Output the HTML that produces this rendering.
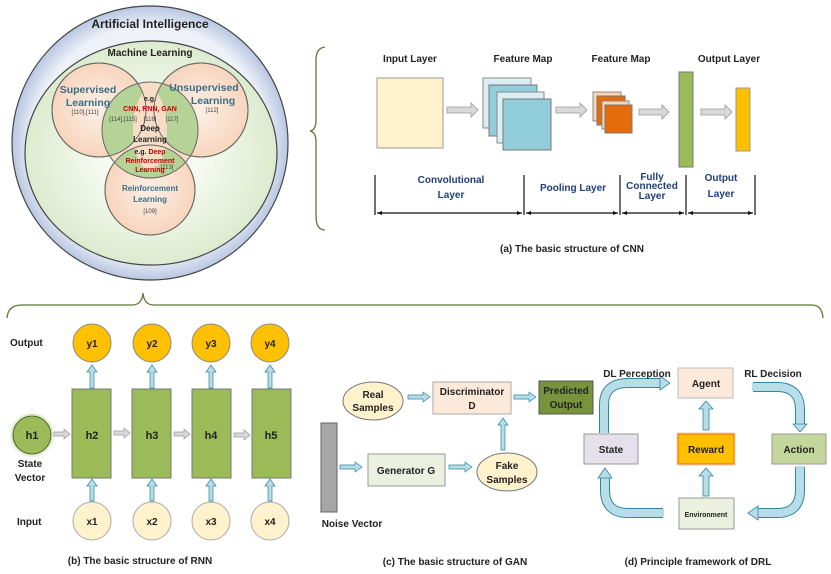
<!DOCTYPE html>
<html><head><meta charset="utf-8"><style>
html,body{margin:0;padding:0;background:#fff}
svg{display:block}
text{font-family:"Liberation Sans",sans-serif;font-weight:bold;fill:#222}
</style></head><body>
<svg width="831" height="574" viewBox="0 0 831 574" xmlns="http://www.w3.org/2000/svg">
<defs>
<radialGradient id="ai" cx="50%" cy="50%" r="50%"><stop offset="85%" stop-color="#eef1f8"/><stop offset="100%" stop-color="#b8c7e2"/></radialGradient>
<radialGradient id="ml" cx="50%" cy="50%" r="50%"><stop offset="40%" stop-color="#f6faf0"/><stop offset="100%" stop-color="#dcebcf"/></radialGradient>
<radialGradient id="pk" cx="50%" cy="50%" r="50%"><stop offset="0%" stop-color="#fdf0e6"/><stop offset="100%" stop-color="#f7d5bd"/></radialGradient>
</defs>
<!-- Venn -->
<ellipse cx="150" cy="143" rx="138" ry="137" fill="url(#ai)" stroke="#444" stroke-width="1.2"/>
<ellipse cx="151" cy="153" rx="126" ry="112" fill="url(#ml)" stroke="#444" stroke-width="1.2"/>
<circle cx="99" cy="110" r="47" fill="url(#pk)" stroke="#666"/>
<circle cx="201" cy="110" r="47" fill="url(#pk)" stroke="#666"/>
<circle cx="150" cy="190" r="45" fill="url(#pk)" stroke="#666"/>
<clipPath id="cd"><circle cx="150" cy="130" r="48"/></clipPath>
<circle cx="150" cy="130" r="48" fill="#f8ddc6"/>
<g clip-path="url(#cd)">
<circle cx="99" cy="110" r="47" fill="#a9d18e" opacity="0.85"/>
<circle cx="201" cy="110" r="47" fill="#a9d18e" opacity="0.85"/>
<circle cx="150" cy="190" r="45" fill="#a9d18e" opacity="0.85"/>
<ellipse cx="150" cy="130" rx="17" ry="40" fill="#f8ddc6"/>
</g>
<circle cx="99" cy="110" r="47" fill="none" stroke="#666"/>
<circle cx="201" cy="110" r="47" fill="none" stroke="#666"/>
<circle cx="150" cy="190" r="45" fill="none" stroke="#666"/>
<circle cx="150" cy="130" r="48" fill="none" stroke="#666"/>
<text x="150" y="28" font-size="12" text-anchor="middle">Artificial Intelligence</text>
<text x="150" y="56" font-size="10" text-anchor="middle">Machine Learning</text>
<g fill="#31708f" style="fill:#3a6e86" font-size="10.5" text-anchor="middle">
<text x="88" y="93" style="fill:#3a6e86">Supervised</text><text x="88" y="106" style="fill:#3a6e86">Learning</text>
<text x="204" y="91" style="fill:#3a6e86">Unsupervised</text><text x="213" y="104" style="fill:#3a6e86">Learning</text>
<text x="150" y="191" font-size="8" style="fill:#3a6e86">Reinforcement</text><text x="150" y="202" font-size="8" style="fill:#3a6e86">Learning</text>
</g>
<g font-size="6" style="font-weight:normal" text-anchor="middle">
<text x="85" y="114" style="font-weight:normal;fill:#444">[110],[111]</text>
<text x="212" y="112" style="font-weight:normal;fill:#444">[112]</text>
<text x="123" y="121" style="font-weight:normal;fill:#444">[114],[115]</text>
<text x="150" y="121" style="font-weight:normal;fill:#444">[116]</text>
<text x="172" y="121" style="font-weight:normal;fill:#444">[117]</text>
<text x="167" y="169" style="font-weight:normal;fill:#444">[113]</text>
<text x="150" y="213" style="font-weight:normal;fill:#444">[109]</text>
</g>
<text x="150" y="101" font-size="7" text-anchor="middle">e.g.</text>
<text x="150" y="111" font-size="7" text-anchor="middle" style="fill:#c00000">CNN, RNN, GAN</text>
<text x="150" y="131" font-size="8" text-anchor="middle">Deep</text>
<text x="150" y="142" font-size="8" text-anchor="middle">Learning</text>
<text x="150" y="154" font-size="7" text-anchor="middle">e.g. <tspan style="fill:#c00000">Deep</tspan></text>
<text x="150" y="163" font-size="7" text-anchor="middle" style="fill:#c00000">Reinforcement</text>
<text x="150" y="172" font-size="7" text-anchor="middle" style="fill:#c00000">Learning</text>
<!-- braces -->
<path d="M325,47 Q316,48 316,60 L316,120 Q316,130 310,131 Q316,132 316,142 L316,216 Q316,230 325,230" fill="none" stroke="#5a7a3a" stroke-width="1.3"/>
<path d="M7,318 Q8,305 22,305 L132,305 Q142,305 143,293 Q144,305 154,305 L812,305 Q822,305 823,318" fill="none" stroke="#5a7a3a" stroke-width="1.3"/>
<!-- CNN -->
<g font-size="10">
<text x="410" y="62" text-anchor="middle">Input Layer</text>
<text x="523" y="62" text-anchor="middle">Feature Map</text>
<text x="621" y="62" text-anchor="middle">Feature Map</text>
<text x="729" y="62" text-anchor="middle">Output Layer</text>
</g>
<rect x="377" y="78" width="66" height="70" fill="#fff2cc" stroke="#999"/>
<rect x="483" y="78" width="48" height="50" fill="#dbeef4" stroke="#888"/>
<rect x="489" y="85" width="48" height="51" fill="#92cddc" stroke="#777"/>
<rect x="497" y="92" width="47" height="51" fill="#dbeef4" stroke="#888"/>
<rect x="503" y="99" width="48" height="51" fill="#92cddc" stroke="#777"/>
<rect x="593" y="92" width="28" height="29" fill="#fcd5b4" stroke="#888"/>
<rect x="597" y="96" width="28" height="29" fill="#e46c0a" stroke="#777"/>
<rect x="602" y="101" width="27" height="28" fill="#fcd5b4" stroke="#888"/>
<rect x="605" y="105" width="27" height="28" fill="#e46c0a" stroke="#777"/>
<rect x="679" y="72" width="14" height="95" fill="#9bbb59" stroke="#777"/>
<rect x="736" y="88" width="14" height="63" fill="#ffc000" stroke="#999"/>
<g fill="#d9d9d9" stroke="#999" stroke-width="0.8">
<polygon points="447,107 471,107 471,103 478,110 471,117 471,113 447,113"/>
<polygon points="556,107 580,107 580,103 587,110 580,117 580,113 556,113"/>
<polygon points="639,109 662,109 662,105 669,112 662,119 662,115 639,115"/>
<polygon points="701,109 725,109 725,105 732,112 725,119 725,115 701,115"/>
</g>
<g stroke="#111" stroke-width="1.2">
<line x1="375" y1="175" x2="375" y2="215"/><line x1="524" y1="175" x2="524" y2="215"/>
<line x1="620" y1="175" x2="620" y2="215"/><line x1="686" y1="175" x2="686" y2="215"/>
<line x1="755" y1="175" x2="755" y2="215"/>
<line x1="377" y1="213" x2="522" y2="213"/><line x1="526" y1="213" x2="618" y2="213"/>
<line x1="622" y1="213" x2="684" y2="213"/><line x1="688" y1="213" x2="753" y2="213"/>
</g>
<g fill="#111">
<polygon points="377,213 382,211 382,215"/><polygon points="522,213 517,211 517,215"/>
<polygon points="526,213 531,211 531,215"/><polygon points="618,213 613,211 613,215"/>
<polygon points="622,213 627,211 627,215"/><polygon points="684,213 679,211 679,215"/>
<polygon points="688,213 693,211 693,215"/><polygon points="753,213 748,211 748,215"/>
</g>
<g font-size="10" text-anchor="middle">
<text x="451" y="183" style="fill:#1f3d7a">Convolutional</text><text x="451" y="198" style="fill:#1f3d7a">Layer</text>
<text x="573" y="191" style="fill:#1f3d7a">Pooling Layer</text>
<text x="652" y="180" style="fill:#1f3d7a">Fully</text><text x="652" y="189" style="fill:#1f3d7a">Connected</text><text x="652" y="199" style="fill:#1f3d7a">Layer</text>
<text x="721" y="181" style="fill:#1f3d7a">Output</text><text x="721" y="197" style="fill:#1f3d7a">Layer</text>
</g>
<text x="572" y="252" font-size="10" text-anchor="middle">(a) The basic structure of CNN</text>
<!-- RNN -->
<g font-size="10">
<text x="10" y="346">Output</text>
<text x="30" y="467" text-anchor="middle">State</text>
<text x="30" y="481" text-anchor="middle">Vector</text>
<text x="17" y="525">Input</text>
</g>
<circle cx="32" cy="435" r="22" fill="#dbe7c4" opacity="0.7"/>
<circle cx="32" cy="435" r="19" fill="#9bbb59" stroke="#4f6228"/>
<text x="32" y="439" font-size="11" text-anchor="middle">h1</text>
<g stroke="#999" fill="#d9d9d9" stroke-width="0.7">
<polygon points="54,432 64,432 64,429 70,434 64,439 64,436 54,436"/>
<polygon points="114,431 124,431 124,428 130,433 124,438 124,435 114,435"/>
<polygon points="174,432 184,432 184,429 190,434 184,439 184,436 174,436"/>
<polygon points="234,433 244,433 244,430 250,435 244,440 244,437 234,437"/>
</g>
<g font-size="11" text-anchor="middle">
<rect x="72" y="389" width="39" height="89" fill="#9bbb59" stroke="#777"/><text x="92" y="439">h2</text>
<rect x="132" y="389" width="39" height="89" fill="#9bbb59" stroke="#777"/><text x="152" y="439">h3</text>
<rect x="192" y="389" width="39" height="89" fill="#9bbb59" stroke="#777"/><text x="211" y="439">h4</text>
<rect x="252" y="389" width="39" height="89" fill="#9bbb59" stroke="#777"/><text x="271" y="439">h5</text>
</g>
<g fill="#b7dde8" stroke="#31859c" stroke-width="0.7">
<polygon points="90,388 90,372 87,372 92,365 97,372 94,372 94,388"/>
<polygon points="150,388 150,372 147,372 152,365 157,372 154,372 154,388"/>
<polygon points="209,388 209,372 206,372 211,365 216,372 213,372 213,388"/>
<polygon points="268,388 268,372 265,372 270,365 275,372 272,372 272,388"/>
<polygon points="90,501 90,486 87,486 92,479 97,486 94,486 94,501"/>
<polygon points="150,501 150,486 147,486 152,479 157,486 154,486 154,501"/>
<polygon points="209,501 209,486 206,486 211,479 216,486 213,486 213,501"/>
<polygon points="268,501 268,486 265,486 270,479 275,486 272,486 272,501"/>
</g>
<g font-size="10" text-anchor="middle">
<circle cx="92" cy="343" r="19" fill="#ffc000" stroke="#888"/><text x="92" y="347">y1</text>
<circle cx="152" cy="343" r="19" fill="#ffc000" stroke="#888"/><text x="152" y="347">y2</text>
<circle cx="211" cy="343" r="19" fill="#ffc000" stroke="#888"/><text x="211" y="347">y3</text>
<circle cx="270" cy="343" r="19" fill="#ffc000" stroke="#888"/><text x="270" y="347">y4</text>
<circle cx="92" cy="521" r="19" fill="#fff2cc" stroke="#aaa"/><text x="92" y="525">x1</text>
<circle cx="152" cy="521" r="19" fill="#fff2cc" stroke="#aaa"/><text x="152" y="525">x2</text>
<circle cx="211" cy="521" r="19" fill="#fff2cc" stroke="#aaa"/><text x="211" y="525">x3</text>
<circle cx="270" cy="521" r="19" fill="#fff2cc" stroke="#aaa"/><text x="270" y="525">x4</text>
</g>
<text x="140" y="564" font-size="10" text-anchor="middle">(b) The basic structure of RNN</text>
<!-- GAN -->
<ellipse cx="373" cy="401" rx="30" ry="19" fill="#fff2cc" stroke="#777"/>
<rect x="433" y="382" width="78" height="32" fill="#fde9d9" stroke="#aaa"/>
<rect x="539" y="381" width="54" height="33" fill="#77933c" stroke="#555"/>
<rect x="321" y="423" width="16" height="89" fill="#a6a6a6" stroke="#666"/>
<rect x="368" y="454" width="77" height="32" fill="#ebf1de" stroke="#999"/>
<ellipse cx="507" cy="472" rx="30" ry="19" fill="#fff2cc" stroke="#777"/>
<g font-size="10" text-anchor="middle">
<text x="373" y="398">Real</text><text x="373" y="411">Samples</text>
<text x="472" y="395">Discriminator</text><text x="472" y="409">D</text>
<text x="566" y="394">Predicted</text><text x="566" y="408">Output</text>
<text x="406" y="474">Generator G</text>
<text x="507" y="469">Fake</text><text x="507" y="483">Samples</text>
<text x="352" y="527">Noise Vector</text>
</g>
<g fill="#b7dde8" stroke="#31859c" stroke-width="0.7">
<polygon points="408,395 423,395 423,392 430,397 423,402 423,399 408,399"/>
<polygon points="514,395 529,395 529,392 536,397 529,402 529,399 514,399"/>
<polygon points="340,465 355,465 355,462 362,467 355,472 355,469 340,469"/>
<polygon points="449,465 465,465 465,462 472,467 465,472 465,469 449,469"/>
<polygon points="501,450 501,425 498,425 503,418 508,425 505,425 505,450"/>
</g>
<text x="455" y="565" font-size="10" text-anchor="middle">(c) The basic structure of GAN</text>
<!-- DRL -->
<g fill="none" stroke-linecap="butt">
<path d="M604,433 L604,405 Q604,383 628,383 L660,383" stroke="#31859c" stroke-width="10"/>
<path d="M604,433 L604,405 Q604,383 628,383 L661,383" stroke="#b7dde8" stroke-width="8"/>
<path d="M753,387 L777,387 Q800,387 800,410 L800,424" stroke="#31859c" stroke-width="10"/>
<path d="M752,387 L777,387 Q800,387 800,410 L800,425" stroke="#b7dde8" stroke-width="8"/>
<path d="M800,467 L800,490 Q800,513 777,513 L758,513" stroke="#31859c" stroke-width="10"/>
<path d="M800,466 L800,490 Q800,513 777,513 L757,513" stroke="#b7dde8" stroke-width="8"/>
<path d="M663,513 L628,513 Q605,513 605,490 L605,478" stroke="#31859c" stroke-width="10"/>
<path d="M664,513 L628,513 Q605,513 605,490 L605,477" stroke="#b7dde8" stroke-width="8"/>
</g>
<g fill="#b7dde8" stroke="#31859c" stroke-width="0.8">
<polygon points="660,376 670,383 660,390"/>
<polygon points="793,424 800,432 807,424"/>
<polygon points="758,506 748,513 758,520"/>
<polygon points="598,478 605,468 612,478"/>
<polygon points="703,430 703,409 699,409 706,401 713,409 709,409 709,430"/>
<polygon points="703,496 703,476 699,476 706,468 713,476 709,476 709,496"/>
</g>
<rect x="678" y="368" width="55" height="30" fill="#fde9d9" stroke="#bbb"/>
<rect x="584" y="434" width="54" height="30" fill="#e5e0ec" stroke="#999"/>
<rect x="676" y="432" width="60" height="34" fill="#fbd4b4" opacity="0.6"/>
<rect x="678" y="434" width="56" height="30" fill="#ffc000" stroke="#e46c0a"/>
<rect x="772" y="434" width="54" height="30" fill="#c3d69b" stroke="#999"/>
<rect x="679" y="498" width="55" height="31" fill="#ebf1de" stroke="#999"/>
<g font-size="10" text-anchor="middle">
<text x="706" y="387">Agent</text>
<text x="611" y="453">State</text>
<text x="706" y="453">Reward</text>
<text x="799" y="453">Action</text>
<text x="706" y="517" font-size="7">Environment</text>
<text x="637" y="377">DL Perception</text>
<text x="773" y="377">RL Decision</text>
</g>
<text x="698" y="565" font-size="10" text-anchor="middle">(d) Principle framework of DRL</text>
</svg>
</body></html>
